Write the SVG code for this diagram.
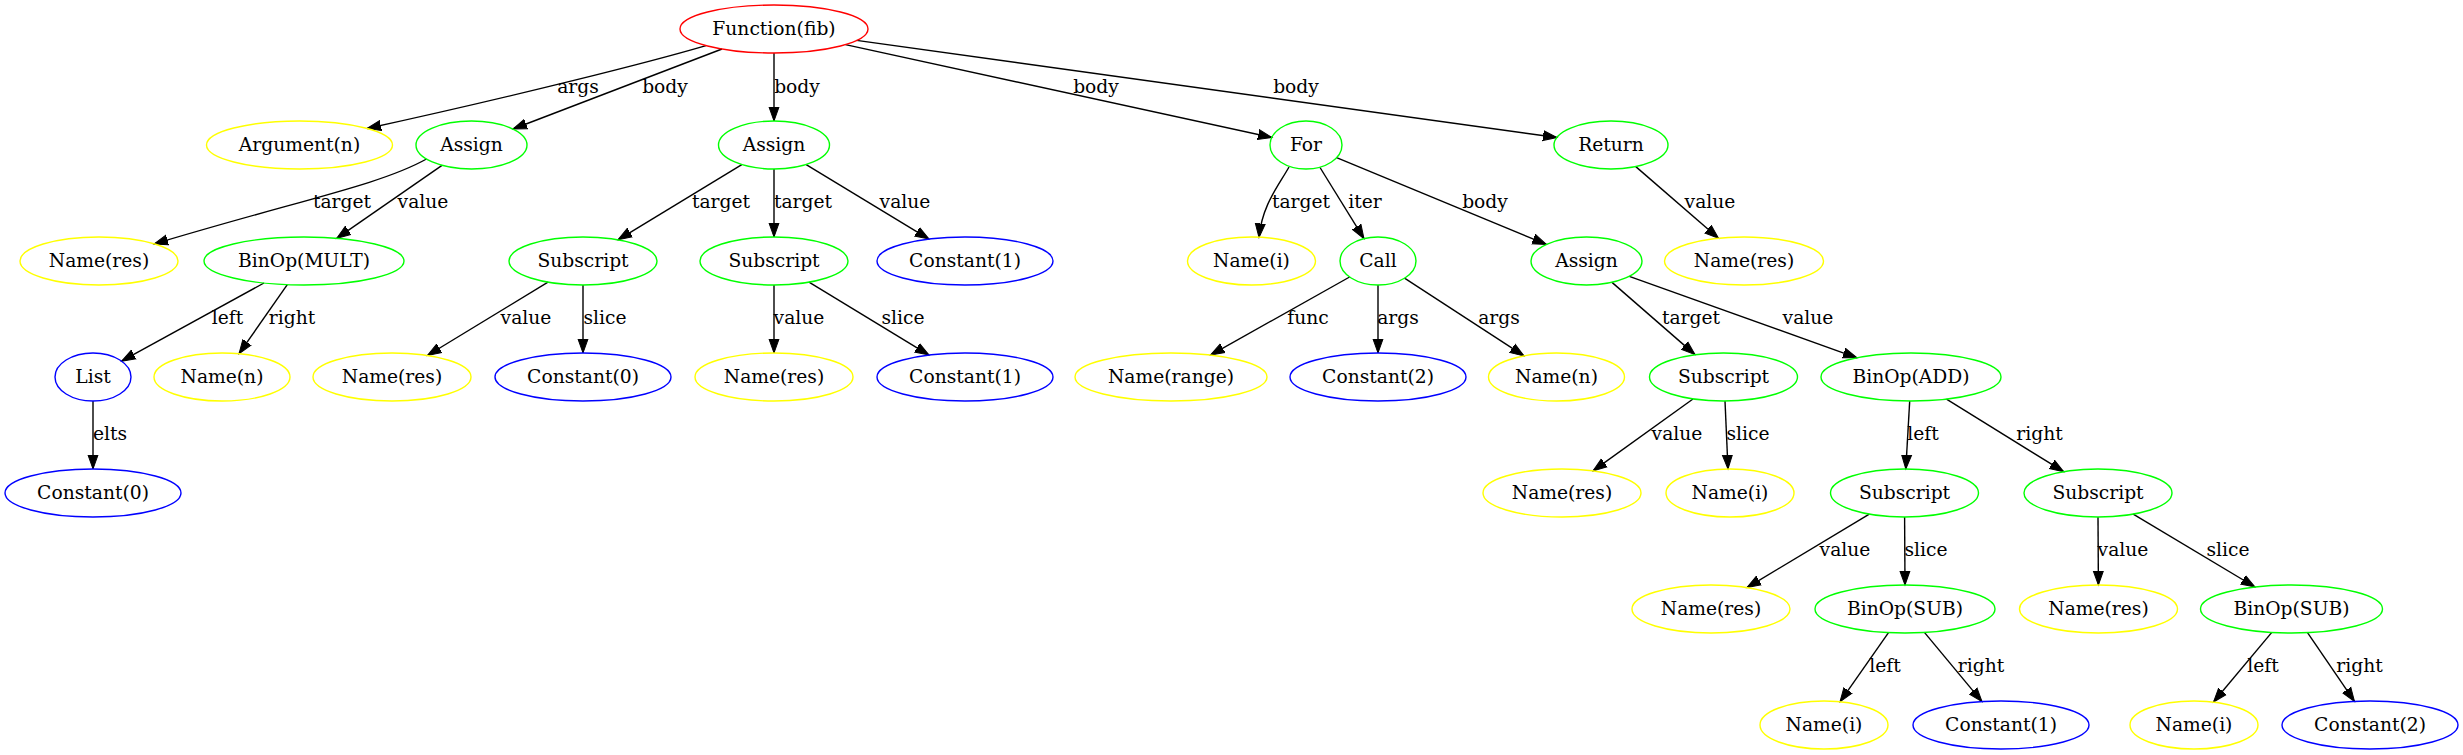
<svg xmlns="http://www.w3.org/2000/svg" width="2463" height="755" viewBox="0 0 2463 755">
<style>
text{font-family:"DejaVu Serif","Liberation Serif",serif;font-size:18.7px;fill:#000;text-anchor:middle}
ellipse{fill:none;stroke-width:1.4}
.r{stroke:#ff0000}.y{stroke:#ffff00}.g{stroke:#00ff00}.b{stroke:#0000ff}
#edges path{fill:none;stroke:#000;stroke-width:1.4;marker-end:url(#ah)}
</style>
<defs>
<marker id="ah" markerUnits="userSpaceOnUse" markerWidth="16" markerHeight="12" refX="14" refY="5" orient="auto" viewBox="0 0 16 10">
<path d="M0,0 L14,5 L0,10 z" fill="#000" stroke="#000" stroke-width="1"/>
</marker>
</defs>
<rect width="2463" height="755" fill="#fff"/>
<g id="edges">
<path d="M706,45.6 C650,62 520,95 367,128.5"/>
<path d="M722,49 L513,129"/>
<path d="M774,53 L774,121"/>
<path d="M845.5,44.6 L1272,137.5"/>
<path d="M856.6,40.4 L1557,137.5"/>
<path d="M426.5,159 C380,185 300,200 154,244"/>
<path d="M442,165.4 L336.7,238.3"/>
<path d="M741.8,164.6 L618,239.8"/>
<path d="M774,169 L774,237"/>
<path d="M806.2,164.6 L929,239.1"/>
<path d="M1289,167 C1279,185 1262,205 1259,237.5"/>
<path d="M1320,167.5 L1364,238.7"/>
<path d="M1336.6,157.7 L1546.4,244.4"/>
<path d="M1635.8,166.6 L1718.5,238.3"/>
<path d="M264,283 L121.5,361.2"/>
<path d="M287.3,284.7 L239,353.7"/>
<path d="M548,282.2 L427.4,355.5"/>
<path d="M583,285 L583,353"/>
<path d="M774,285 L774,353"/>
<path d="M809,282.2 L929,355.1"/>
<path d="M1349.6,277 L1210.5,355.1"/>
<path d="M1378,285 L1378,353"/>
<path d="M1404.5,278.2 L1524,355.9"/>
<path d="M1612,282.4 L1695,354.6"/>
<path d="M1629.3,276.3 L1857,357.8"/>
<path d="M93,401 L93,469"/>
<path d="M1693,399 L1593,470.9"/>
<path d="M1725,401 L1728,469"/>
<path d="M1909.7,401 L1905.8,469"/>
<path d="M1946.5,399.1 L2063.7,471.7"/>
<path d="M1869.3,514.1 L1747,587.6"/>
<path d="M1904.6,517 L1905,585"/>
<path d="M2098,517 L2098.4,585"/>
<path d="M2133.2,514.1 L2255,587"/>
<path d="M1888.5,632.6 L1840,701.8"/>
<path d="M1924.4,632.4 L1982,701.6"/>
<path d="M2271.8,632.4 L2213.5,702"/>
<path d="M2307.5,632.6 L2354.5,701.4"/>
</g>
<g id="edge-labels">
<text x="578" y="93">args</text>
<text x="665" y="93">body</text>
<text x="797" y="93">body</text>
<text x="1096" y="93">body</text>
<text x="1296" y="93">body</text>
<text x="342" y="208">target</text>
<text x="423" y="208">value</text>
<text x="721" y="208">target</text>
<text x="803" y="208">target</text>
<text x="905" y="208">value</text>
<text x="1301" y="208">target</text>
<text x="1365" y="208">iter</text>
<text x="1485" y="208">body</text>
<text x="1710" y="208">value</text>
<text x="227.5" y="324">left</text>
<text x="292" y="324">right</text>
<text x="526" y="324">value</text>
<text x="605" y="324">slice</text>
<text x="799" y="324">value</text>
<text x="903" y="324">slice</text>
<text x="1308" y="324">func</text>
<text x="1398" y="324">args</text>
<text x="1499" y="324">args</text>
<text x="1691" y="324">target</text>
<text x="1808" y="324">value</text>
<text x="110" y="440">elts</text>
<text x="1677" y="440">value</text>
<text x="1748" y="440">slice</text>
<text x="1923" y="440">left</text>
<text x="2039.5" y="440">right</text>
<text x="1845" y="556">value</text>
<text x="1926" y="556">slice</text>
<text x="2123" y="556">value</text>
<text x="2228" y="556">slice</text>
<text x="1885" y="672">left</text>
<text x="1981" y="672">right</text>
<text x="2263" y="672">left</text>
<text x="2359.5" y="672">right</text>
</g>
<g id="n0"><ellipse class="r" cx="774" cy="29" rx="94" ry="24"/><text x="774" y="35">Function(fib)</text></g>
<g id="n1"><ellipse class="y" cx="299.5" cy="145" rx="93" ry="24"/><text x="299.5" y="151">Argument(n)</text></g>
<g id="n2"><ellipse class="g" cx="471.5" cy="145" rx="55.5" ry="24"/><text x="471.5" y="151">Assign</text></g>
<g id="n3"><ellipse class="g" cx="774" cy="145" rx="55.5" ry="24"/><text x="774" y="151">Assign</text></g>
<g id="n4"><ellipse class="g" cx="1306" cy="145" rx="36" ry="24"/><text x="1306" y="151">For</text></g>
<g id="n5"><ellipse class="g" cx="1611" cy="145" rx="57" ry="24"/><text x="1611" y="151">Return</text></g>
<g id="n6"><ellipse class="y" cx="99" cy="261" rx="79" ry="24"/><text x="99" y="267">Name(res)</text></g>
<g id="n7"><ellipse class="g" cx="304" cy="261" rx="100" ry="24"/><text x="304" y="267">BinOp(MULT)</text></g>
<g id="n8"><ellipse class="g" cx="583" cy="261" rx="74" ry="24"/><text x="583" y="267">Subscript</text></g>
<g id="n9"><ellipse class="g" cx="774" cy="261" rx="74" ry="24"/><text x="774" y="267">Subscript</text></g>
<g id="n10"><ellipse class="b" cx="965" cy="261" rx="88" ry="24"/><text x="965" y="267">Constant(1)</text></g>
<g id="n11"><ellipse class="y" cx="1251.5" cy="261" rx="64" ry="24"/><text x="1251.5" y="267">Name(i)</text></g>
<g id="n12"><ellipse class="g" cx="1378" cy="261" rx="38" ry="24"/><text x="1378" y="267">Call</text></g>
<g id="n13"><ellipse class="g" cx="1586.5" cy="261" rx="55.5" ry="24"/><text x="1586.5" y="267">Assign</text></g>
<g id="n14"><ellipse class="y" cx="1744" cy="261" rx="79.5" ry="24"/><text x="1744" y="267">Name(res)</text></g>
<g id="n15"><ellipse class="b" cx="93" cy="377" rx="38" ry="24"/><text x="93" y="383">List</text></g>
<g id="n16"><ellipse class="y" cx="222" cy="377" rx="68" ry="24"/><text x="222" y="383">Name(n)</text></g>
<g id="n17"><ellipse class="y" cx="392" cy="377" rx="79" ry="24"/><text x="392" y="383">Name(res)</text></g>
<g id="n18"><ellipse class="b" cx="583" cy="377" rx="88" ry="24"/><text x="583" y="383">Constant(0)</text></g>
<g id="n19"><ellipse class="y" cx="774" cy="377" rx="79" ry="24"/><text x="774" y="383">Name(res)</text></g>
<g id="n20"><ellipse class="b" cx="965" cy="377" rx="88" ry="24"/><text x="965" y="383">Constant(1)</text></g>
<g id="n21"><ellipse class="y" cx="1171" cy="377" rx="96" ry="24"/><text x="1171" y="383">Name(range)</text></g>
<g id="n22"><ellipse class="b" cx="1378" cy="377" rx="88" ry="24"/><text x="1378" y="383">Constant(2)</text></g>
<g id="n23"><ellipse class="y" cx="1556.5" cy="377" rx="68" ry="24"/><text x="1556.5" y="383">Name(n)</text></g>
<g id="n24"><ellipse class="g" cx="1723.5" cy="377" rx="74" ry="24"/><text x="1723.5" y="383">Subscript</text></g>
<g id="n25"><ellipse class="g" cx="1911" cy="377" rx="90" ry="24"/><text x="1911" y="383">BinOp(ADD)</text></g>
<g id="n26"><ellipse class="b" cx="93" cy="493" rx="88" ry="24"/><text x="93" y="499">Constant(0)</text></g>
<g id="n27"><ellipse class="y" cx="1562" cy="493" rx="79" ry="24"/><text x="1562" y="499">Name(res)</text></g>
<g id="n28"><ellipse class="y" cx="1730" cy="493" rx="64" ry="24"/><text x="1730" y="499">Name(i)</text></g>
<g id="n29"><ellipse class="g" cx="1904.5" cy="493" rx="74" ry="24"/><text x="1904.5" y="499">Subscript</text></g>
<g id="n30"><ellipse class="g" cx="2098" cy="493" rx="74" ry="24"/><text x="2098" y="499">Subscript</text></g>
<g id="n31"><ellipse class="y" cx="1711" cy="609" rx="79" ry="24"/><text x="1711" y="615">Name(res)</text></g>
<g id="n32"><ellipse class="g" cx="1905" cy="609" rx="90" ry="24"/><text x="1905" y="615">BinOp(SUB)</text></g>
<g id="n33"><ellipse class="y" cx="2098.5" cy="609" rx="79" ry="24"/><text x="2098.5" y="615">Name(res)</text></g>
<g id="n34"><ellipse class="g" cx="2291.5" cy="609" rx="91" ry="24"/><text x="2291.5" y="615">BinOp(SUB)</text></g>
<g id="n35"><ellipse class="y" cx="1824" cy="725" rx="64" ry="24"/><text x="1824" y="731">Name(i)</text></g>
<g id="n36"><ellipse class="b" cx="2001" cy="725" rx="88" ry="24"/><text x="2001" y="731">Constant(1)</text></g>
<g id="n37"><ellipse class="y" cx="2194" cy="725" rx="64" ry="24"/><text x="2194" y="731">Name(i)</text></g>
<g id="n38"><ellipse class="b" cx="2370" cy="725" rx="88" ry="24"/><text x="2370" y="731">Constant(2)</text></g>
</svg>
